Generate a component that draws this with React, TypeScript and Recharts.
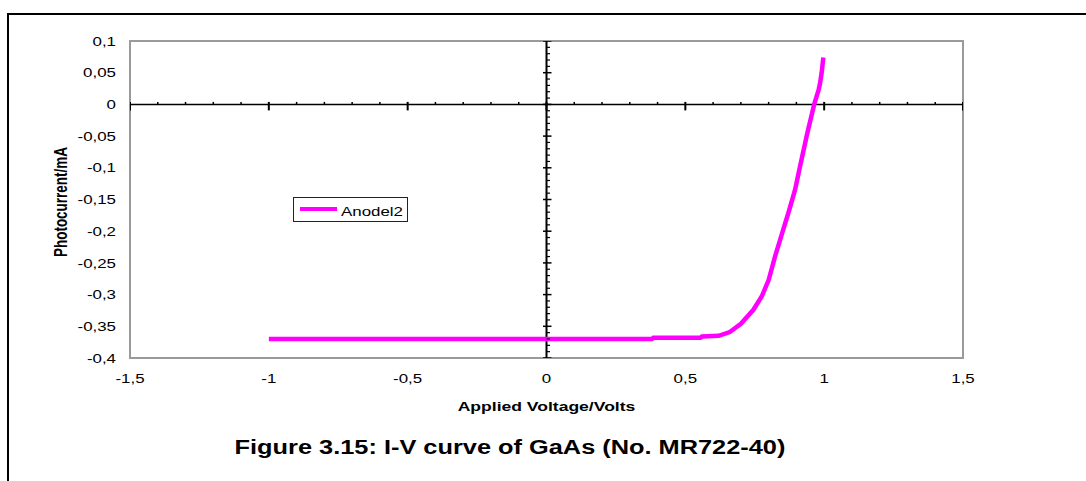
import React from 'react';
import {
  ComposedChart,
  Line,
  Scatter,
  XAxis,
  YAxis,
  ReferenceArea,
  ReferenceLine,
  Legend,
} from 'recharts';

// I-V measurement, anode 2
const VOLTAGE = [
  -1.0, 0.38, 0.385, 0.555, 0.56, 0.62, 0.66, 0.7, 0.745, 0.775, 0.8, 0.823,
  0.841, 0.874, 0.895, 0.913, 0.939, 0.964, 0.98, 0.985, 0.991, 0.997,
];
const PHOTOCURRENT = [
  -0.37, -0.37, -0.368, -0.368, -0.366, -0.365, -0.359, -0.346, -0.324, -0.303,
  -0.277, -0.24, -0.214, -0.167, -0.135, -0.098, -0.046, 0, 0.023, 0.033, 0.05,
  0.074,
];

const X_TICKS = [-1.5, -1, -0.5, 0, 0.5, 1, 1.5];
const Y_TICKS = [-0.4, -0.35, -0.3, -0.25, -0.2, -0.15, -0.1, -0.05, 0, 0.05, 0.1];

const SERIES_NAME = 'Anodel2';
const X_TITLE = 'Applied Voltage/Volts';
const Y_TITLE = 'Photocurrent/mA';
const CAPTION = 'Figure 3.15: I-V curve of GaAs (No. MR722-40)';

const curve = VOLTAGE.map((x, i) => ({ x, y: PHOTOCURRENT[i] }));

// small tick marks sitting on the zero lines
const xMinor = Array.from({ length: 31 }, (_, i) => (i - 15) / 10)
  .filter((v) => !X_TICKS.includes(v))
  .map((x) => ({ x, y: 0 }));
const xMajor = X_TICKS.map((x) => ({ x, y: 0 }));
const yMinor = Array.from({ length: 51 }, (_, i) => (i - 40) / 100)
  .filter((v) => !Y_TICKS.includes(v))
  .map((y) => ({ x: 0, y }));
const yMajor = Y_TICKS.map((y) => ({ x: 0, y }));

const FONT = '"Liberation Sans", Arial, sans-serif';
const SX = 1.3; // text is drawn a little wide

const fmt = (v: number) => String(v).replace('.', ',');

const XTick = (props: any) => {
  const { x, y, payload } = props;
  return (
    <g transform={`translate(${x},${y}) scale(${SX},1)`}>
      <text x={0} y={0} dy="0.71em" textAnchor="middle" fontSize={13} fill="#000" fontFamily={FONT}>
        {fmt(payload.value)}
      </text>
    </g>
  );
};

const YTick = (props: any) => {
  const { x, y, payload } = props;
  return (
    <g transform={`translate(${x},${y}) scale(${SX},1)`}>
      <text x={0} y={0} dy="0.355em" textAnchor="end" fontSize={13} fill="#000" fontFamily={FONT}>
        {fmt(payload.value)}
      </text>
    </g>
  );
};

const XTitle = (props: any) => {
  const { viewBox } = props;
  const cx = viewBox.x + viewBox.width / 2;
  return (
    <g transform={`translate(${cx},${viewBox.y + 52.7}) scale(${SX},1)`}>
      <text textAnchor="middle" fontSize={13.5} fontWeight="bold" fill="#000" fontFamily={FONT}>
        {X_TITLE}
      </text>
    </g>
  );
};

const YTitle = (props: any) => {
  const { viewBox } = props;
  const cy = viewBox.y + viewBox.height / 2 + 2.5;
  return (
    <g transform={`translate(66.5,${cy}) scale(${SX},1) rotate(-90)`}>
      <text textAnchor="middle" fontSize={13.5} fontWeight="bold" fill="#000" fontFamily={FONT}>
        {Y_TITLE}
      </text>
    </g>
  );
};

const tickMark = (dx1: number, dy1: number, dx2: number, dy2: number, w: number) =>
  (p: any) => (
    <line
      x1={p.cx + dx1}
      y1={p.cy + dy1}
      x2={p.cx + dx2}
      y2={p.cy + dy2}
      stroke="#000"
      strokeWidth={w}
    />
  );

const LegendBox = () => (
  <div
    style={{
      width: 115,
      height: 25,
      boxSizing: 'border-box',
      border: '1px solid #222',
      background: '#fff',
    }}
  >
    <svg width={113} height={23} style={{ display: 'block' }}>
      <line x1={6} y1={11} x2={43} y2={11} stroke="#ff00ff" strokeWidth={4} />
      <g transform={`translate(47,18) scale(${SX},1)`}>
        <text fontSize={13} fill="#000" fontFamily={FONT}>
          {SERIES_NAME}
        </text>
      </g>
    </svg>
  </div>
);

export default function App() {
  return (
    <div
      style={{
        position: 'fixed',
        left: 0,
        top: 0,
        width: 1086,
        height: 481,
        overflow: 'hidden',
        background: '#fff',
        fontFamily: FONT,
      }}
    >
      <div
        style={{
          position: 'absolute',
          left: 7,
          top: 13,
          width: 1120,
          height: 520,
          border: '2px solid #000',
        }}
      />
      <div style={{ position: 'absolute', left: 0, top: 0 }}>
        <ComposedChart
          width={1086}
          height={481}
          margin={{ top: 41, right: 123, bottom: 93, left: 0 }}
        >
          <XAxis
            type="number"
            dataKey="x"
            domain={[-1.5, 1.5]}
            ticks={X_TICKS}
            allowDataOverflow
            axisLine={false}
            tickLine={false}
            tickSize={0}
            tickMargin={16}
            height={30}
            tick={<XTick />}
            label={<XTitle />}
          />
          <YAxis
            type="number"
            dataKey="y"
            domain={[-0.4, 0.1]}
            ticks={Y_TICKS}
            allowDataOverflow
            axisLine={false}
            tickLine={false}
            tickSize={0}
            tickMargin={14}
            width={130}
            tick={<YTick />}
            label={<YTitle />}
          />
          <ReferenceArea
            x1={-1.5}
            x2={1.5}
            y1={-0.4}
            y2={0.1}
            fill="none"
            stroke="#9a9a9a"
            strokeWidth={2}
          />
          <ReferenceLine y={0} stroke="#000" strokeWidth={1.5} />
          <ReferenceLine x={0} stroke="#000" strokeWidth={2} />
          <Scatter data={xMinor} dataKey="y" isAnimationActive={false} legendType="none" shape={tickMark(0, -2.5, 0, 0, 1.5)} />
          <Scatter data={xMajor} dataKey="y" isAnimationActive={false} legendType="none" shape={tickMark(0, -2.5, 0, 6, 2)} />
          <Scatter data={yMinor} dataKey="y" isAnimationActive={false} legendType="none" shape={tickMark(0, 0, 3.5, 0, 1.2)} />
          <Scatter data={yMajor} dataKey="y" isAnimationActive={false} legendType="none" shape={tickMark(-3.5, 0, 5, 0, 1.5)} />
          <Line
            data={curve}
            dataKey="y"
            name={SERIES_NAME}
            stroke="#ff00ff"
            strokeWidth={4.5}
            dot={false}
            activeDot={false}
            type="linear"
            isAnimationActive={false}
          />
          <Legend
            layout="vertical"
            align="center"
            verticalAlign="middle"
            content={<LegendBox />}
            wrapperStyle={{ left: 293, top: 197, width: 115, height: 25 }}
          />
        </ComposedChart>
      </div>
      <div
        style={{
          position: 'absolute',
          left: 210,
          top: 437.5,
          width: 600,
          textAlign: 'center',
          fontSize: 19.5,
          lineHeight: 1,
          fontWeight: 'bold',
          color: '#000',
          whiteSpace: 'nowrap',
          transform: `scaleX(${SX})`,
          transformOrigin: '50% 50%',
        }}
      >
        {CAPTION}
      </div>
    </div>
  );
}
